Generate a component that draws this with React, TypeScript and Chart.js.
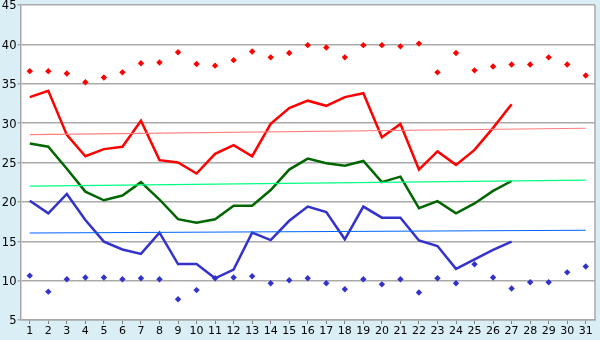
import React, { useEffect, useRef } from "react";
import { Chart, registerables } from "chart.js";

Chart.register(...registerables);

const days = ["1","2","3","4","5","6","7","8","9","10","11","12","13","14","15","16","17","18","19","20","21","22","23","24","25","26","27","28","29","30","31"];

const maxTemp = [33.3,34.1,28.5,25.8,26.7,27.0,30.3,25.3,25.0,23.6,26.1,27.2,25.8,29.9,31.9,32.85,32.2,33.3,33.8,28.2,29.9,24.1,26.4,24.7,26.6,29.4,32.4];
const meanTemp = [27.4,27.0,24.2,21.3,20.2,20.8,22.5,20.3,17.8,17.35,17.8,19.5,19.5,21.5,24.1,25.5,24.9,24.6,25.2,22.5,23.2,19.2,20.1,18.55,19.8,21.4,22.65];
const minTemp = [20.15,18.55,21.0,17.7,14.95,13.95,13.4,16.1,12.1,12.1,10.3,11.4,16.1,15.15,17.6,19.4,18.7,15.25,19.4,18.0,18.0,15.1,14.4,11.5,12.7,13.9,14.95];
const recordHigh = [36.6,36.6,36.3,35.2,35.8,36.45,37.6,37.7,39.0,37.5,37.3,38.0,39.1,38.35,38.9,39.9,39.6,38.35,39.9,39.9,39.75,40.1,36.45,38.9,36.7,37.2,37.45,37.45,38.35,37.45,36.05];
const recordLow = [10.63,8.6,10.17,10.4,10.4,10.17,10.3,10.17,7.63,8.8,10.3,10.4,10.55,9.66,10.04,10.3,9.66,8.9,10.17,9.53,10.17,8.5,10.3,9.66,12.07,10.4,9.0,9.79,9.79,11.05,11.8];
const trendMax = [28.55, 29.35];
const trendMean = [22.0, 22.75];
const trendMin = [16.05, 16.4];

const yMin = 5;
const yMax = 45;
const yStep = 5;

const endpoints = (v: number[]) => [
  { x: days[0], y: v[0] },
  { x: days[days.length - 1], y: v[1] },
];

export default function App() {
  const ref = useRef<HTMLCanvasElement | null>(null);
  useEffect(() => {
    document.body.style.margin = "0";
    const canvas = ref.current!;
    const bgPlugin = {
      id: "bg",
      beforeDraw(chart: any) {
        const { ctx, chartArea } = chart;
        ctx.save();
        ctx.fillStyle = "#DAEEF6";
        ctx.fillRect(0, 0, chart.width, chart.height);
        ctx.fillStyle = "#FFFFFF";
        ctx.fillRect(chartArea.left, chartArea.top, chartArea.right - chartArea.left, chartArea.bottom - chartArea.top);
        ctx.restore();
      },
      afterDraw(chart: any) {
        const { ctx, chartArea } = chart;
        const ys = chart.scales.y;
        ctx.save();
        ctx.strokeStyle = "#A8A8A8";
        ctx.lineWidth = 1.5;
        ctx.beginPath();
        ctx.moveTo(chartArea.right, chartArea.top);
        ctx.lineTo(chartArea.right, chartArea.bottom);
        ctx.stroke();
        ctx.fillStyle = "#000";
        ctx.font = "11.5px 'DejaVu Sans'";
        ctx.textAlign = "right";
        ctx.textBaseline = "middle";
        ys.ticks.forEach((t: any) => {
          ctx.fillText(String(t.value), chartArea.left - 4, ys.getPixelForValue(t.value) + 1.5);
        });
        ctx.restore();
      },
    };
    const chart = new Chart(canvas, {
      type: "line",
      data: {
        labels: days,
        datasets: [
          { data: endpoints(trendMax) as any, borderColor: "#FF7F7F", borderWidth: 1.2, pointRadius: 0, spanGaps: true },
          { data: endpoints(trendMean) as any, borderColor: "#00FF80", borderWidth: 1.2, pointRadius: 0, spanGaps: true },
          { data: endpoints(trendMin) as any, borderColor: "#0066FF", borderWidth: 1.2, pointRadius: 0, spanGaps: true },
          { data: maxTemp, borderColor: "#FF0000", borderWidth: 2.5, pointRadius: 0, tension: 0 },
          { data: meanTemp, borderColor: "#006600", borderWidth: 2.5, pointRadius: 0, tension: 0 },
          { data: minTemp, borderColor: "#3333CC", borderWidth: 2.5, pointRadius: 0, tension: 0 },
          { data: recordHigh, showLine: false, pointStyle: "rectRot", pointRadius: 3.2, backgroundColor: "#FF0000", borderColor: "#FF0000", borderWidth: 0 },
          { data: recordLow, showLine: false, pointStyle: "rectRot", pointRadius: 3.2, backgroundColor: "#3333CC", borderColor: "#3333CC", borderWidth: 0 },
        ],
      },
      options: {
        animation: false,
        responsive: false,
        events: [],
        layout: { padding: { top: 5, right: 5, left: 0, bottom: 0 } },
        plugins: { legend: { display: false }, tooltip: { enabled: false } },
        scales: {
          x: {
            type: "category",
            offset: true,
            grid: { offset: false, drawOnChartArea: false, drawTicks: true, tickLength: 4, color: "#808080" },
            border: { color: "#A8A8A8", width: 1.5 },
            ticks: { color: "#000", font: { family: "DejaVu Sans", size: 11 }, padding: 1, maxRotation: 0, autoSkip: false },
            afterFit: (s: any) => { s.height = 20; },
          },
          y: {
            min: yMin,
            max: yMax,
            ticks: { stepSize: yStep, display: false },
            grid: { color: "#AAAAAA", lineWidth: 1.5, tickLength: 3, drawTicks: true },
            border: { color: "#A8A8A8", width: 1.5 },
            afterFit: (s: any) => { s.width = 20.5; },
          },
        },
      },
      plugins: [bgPlugin],
    });
    return () => chart.destroy();
  }, []);
  return <canvas ref={ref} width={600} height={340} style={{ display: "block" }} />;
}
